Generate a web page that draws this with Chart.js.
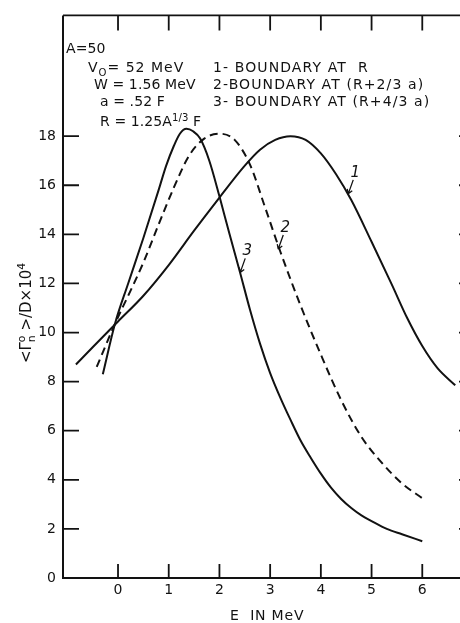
<!DOCTYPE html>
<html><head><meta charset="utf-8">
<script src="https://cdn.jsdelivr.net/npm/chart.js@4.4.0/dist/chart.umd.min.js"></script>
<style>
html,body{margin:0;padding:0;background:#fff;overflow:hidden;width:460px;height:623px}
#wrap{position:relative;width:476px;height:623px}
canvas{display:block}
</style></head>
<body><div id="wrap"><canvas id="c" width="476" height="623"></canvas></div>
<script>
// ---- data ----
const curve1X = [-0.83, -0.5, 0, 0.5, 1.0, 1.5, 2.0, 2.5, 2.8, 3.1, 3.4, 3.7, 4.0, 4.3, 4.6, 5.0, 5.4, 5.7, 6.0, 6.3, 6.65];
const curve1Y = [8.7, 9.4, 10.45, 11.5, 12.75, 14.15, 15.5, 16.8, 17.45, 17.85, 18.0, 17.85, 17.3, 16.45, 15.4, 13.7, 11.95, 10.6, 9.45, 8.55, 7.85];
const curve2X = [-0.42, -0.06, 0.2, 0.5, 0.8, 1.1, 1.4, 1.7, 2.0, 2.3, 2.6, 2.9, 3.2, 3.6, 4.0, 4.4, 4.8, 5.2, 5.6, 6.0];
const curve2Y = [8.6, 10.36, 11.5, 12.85, 14.4, 15.9, 17.2, 17.9, 18.1, 17.85, 16.85, 15.1, 13.3, 11.1, 9.1, 7.25, 5.75, 4.7, 3.85, 3.25];
const curve3X = [-0.30, -0.06, 0.2, 0.5, 0.8, 0.95, 1.1, 1.22, 1.35, 1.48, 1.62, 1.8, 2.0, 2.2, 2.4, 2.6, 2.8, 3.0, 3.2, 3.4, 3.6, 3.8, 4.0, 4.2, 4.4, 4.6, 4.8, 5.0, 5.3, 5.6, 6.0];
const curve3Y = [8.3, 10.36, 12.0, 13.85, 15.8, 16.8, 17.6, 18.1, 18.3, 18.2, 17.9, 17.0, 15.55, 14.0, 12.5, 10.95, 9.55, 8.35, 7.35, 6.45, 5.6, 4.9, 4.25, 3.68, 3.22, 2.85, 2.55, 2.32, 2.0, 1.78, 1.5];

const xTickValues = [0, 1, 2, 3, 4, 5, 6];
const xTickLabels = ['0', '1', '2', '3', '4', '5', '6'];
const yTickValues = [0, 2, 4, 6, 8, 10, 12, 14, 16, 18];
const yTickLabels = ['0', '2', '4', '6', '8', '10', '12', '14', '16', '18'];

// curve labels: name, and the point on its curve the leader arrow touches
const curveLabelNames = ['1', '2', '3'];
const curveLabelX = [4.54, 3.16, 2.41];
const curveLabelY = [15.65, 13.4, 12.45];

const INK = '#121212';
const FONT = '"DejaVu Sans", "Liberation Sans", sans-serif';

const pts = (xs, ys) => xs.map((x, i) => ({x: x, y: ys[i]}));

// segments: t text; sup/sub raise or lower; keep = do not advance (stacked scripts)
function drawRich(ctx, x, y, segs, size) {
  let cx = x;
  for (const s of segs) {
    const small = s.sub || s.sup;
    const fs = small ? size * 0.72 : size;
    ctx.font = fs + 'px ' + FONT;
    const dy = s.sub ? size * 0.28 : (s.sup ? -size * 0.42 : 0);
    ctx.fillText(s.t, cx, y + dy);
    if (!s.keep) cx += ctx.measureText(s.t).width;
  }
  return cx - x;
}
function richWidth(ctx, segs, size) {
  let w = 0;
  for (const s of segs) {
    const small = s.sub || s.sup;
    ctx.font = (small ? size * 0.72 : size) + 'px ' + FONT;
    if (!s.keep) w += ctx.measureText(s.t).width;
  }
  return w;
}

const framePlugin = {
  id: 'frame',
  beforeDatasetsDraw(chart) {
    const {ctx, chartArea: a, scales: {x, y}} = chart;
    ctx.save();
    ctx.strokeStyle = INK;
    ctx.lineWidth = 2;
    ctx.beginPath();
    ctx.moveTo(a.left, a.top); ctx.lineTo(a.left, a.bottom);
    ctx.lineTo(a.right, a.bottom); ctx.lineTo(a.right, a.top);
    ctx.stroke();
    ctx.lineWidth = 1.6;
    ctx.beginPath(); ctx.moveTo(a.left, a.top); ctx.lineTo(a.right, a.top); ctx.stroke();
    ctx.lineWidth = 1.8;
    ctx.beginPath();
    for (const v of xTickValues) {
      const px = x.getPixelForValue(v);
      ctx.moveTo(px, a.bottom); ctx.lineTo(px, a.bottom - 14);
      ctx.moveTo(px, a.top); ctx.lineTo(px, a.top + 15);
    }
    for (const v of yTickValues) {
      if (v === 0) continue;
      const py = y.getPixelForValue(v);
      ctx.moveTo(a.left, py); ctx.lineTo(a.left + 16, py);
      ctx.moveTo(a.right, py); ctx.lineTo(a.right - 15, py);
    }
    ctx.stroke();
    ctx.restore();
  }
};

const textPlugin = {
  id: 'texts',
  afterDraw(chart) {
    const {ctx, chartArea: a, scales: {x, y}} = chart;
    ctx.save();
    ctx.fillStyle = INK;
    ctx.strokeStyle = INK;
    ctx.textBaseline = 'alphabetic';
    ctx.textAlign = 'left';
    const L = a.left, T = a.top;
    const S = 14;
    ctx.letterSpacing = '0.1px';
    drawRich(ctx, L + 3, T + 38, [{t: 'A=50'}], S);
    drawRich(ctx, L + 31, T + 74, [{t: 'W = 1.56 MeV'}], S);
    drawRich(ctx, L + 37, T + 91, [{t: 'a = .52 F'}], S);
    drawRich(ctx, L + 37, T + 111, [{t: 'R = 1.25A'}, {t: '1/3', sup: true}, {t: ' F'}], S);
    ctx.letterSpacing = '1px';
    drawRich(ctx, L + 25, T + 57, [{t: 'V'}, {t: 'O', sub: true}, {t: '= 52 MeV'}], S);
    ctx.letterSpacing = '1.1px';
    drawRich(ctx, L + 150, T + 57, [{t: '1- BOUNDARY AT  R'}], S);
    drawRich(ctx, L + 150, T + 74, [{t: '2-BOUNDARY AT (R+2/3 a)'}], S);
    drawRich(ctx, L + 150, T + 91, [{t: '3- BOUNDARY AT (R+4/3 a)'}], S);

    // x axis title
    ctx.letterSpacing = '0.8px';
    drawRich(ctx, L + 167, 620, [{t: 'E  IN MeV'}], S);

    // y axis title (rotated)
    ctx.letterSpacing = '0px';
    const ysegs = [{t: '<\u0393'}, {t: 'o', sup: true, keep: true}, {t: 'n', sub: true}, {t: ' >/D\u00d710'}, {t: '4', sup: true}];
    ctx.save();
    ctx.translate(31, 313);
    ctx.rotate(-Math.PI / 2);
    const w = richWidth(ctx, ysegs, 15);
    drawRich(ctx, -w / 2, 0, ysegs, 15);
    ctx.restore();

    // curve labels with leader arrows
    ctx.lineWidth = 1.3;
    for (let i = 0; i < curveLabelNames.length; i++) {
      const px = x.getPixelForValue(curveLabelX[i]);
      const py = y.getPixelForValue(curveLabelY[i]);
      ctx.font = 'italic 15px ' + FONT;
      ctx.textAlign = 'center';
      ctx.fillText(curveLabelNames[i], px + 7, py - 17);
      ctx.beginPath();
      ctx.moveTo(px + 5, py - 14); ctx.lineTo(px, py);
      ctx.moveTo(px, py); ctx.lineTo(px - 1, py - 5);
      ctx.moveTo(px, py); ctx.lineTo(px + 4, py - 3);
      ctx.stroke();
    }
    ctx.restore();
  }
};

const common = {borderColor: INK, borderWidth: 2, pointRadius: 0, fill: false, cubicInterpolationMode: 'monotone'};

new Chart(document.getElementById('c'), {
  type: 'line',
  data: {
    datasets: [
      Object.assign({label: '1', data: pts(curve1X, curve1Y)}, common),
      Object.assign({label: '2', data: pts(curve2X, curve2Y), borderDash: [8, 5]}, common),
      Object.assign({label: '3', data: pts(curve3X, curve3Y)}, common)
    ]
  },
  options: {
    responsive: false,
    animation: false,
    layout: {padding: {left: 0, top: 10, right: 2, bottom: 0}},
    plugins: {legend: {display: false}, tooltip: {enabled: false}},
    scales: {
      x: {
        type: 'linear', min: -1.085, max: 7.02,
        afterBuildTicks: s => { s.ticks = xTickValues.map(v => ({value: v})); },
        ticks: {callback: (v, i) => xTickLabels[i], font: {family: FONT, size: 14}, color: INK, padding: 4, maxRotation: 0, autoSkip: false},
        grid: {display: false, drawTicks: false},
        border: {display: false},
        afterFit: s => { s.height = 45; }
      },
      y: {
        type: 'linear', min: 0, max: 22.92,
        afterBuildTicks: s => { s.ticks = yTickValues.map(v => ({value: v})); },
        ticks: {callback: (v, i) => yTickLabels[i], font: {family: FONT, size: 14}, color: INK, padding: 7, autoSkip: false},
        grid: {display: false, drawTicks: false},
        border: {display: false},
        afterFit: s => { s.width = 63; }
      }
    }
  },
  plugins: [framePlugin, textPlugin]
});
</script>
</body></html>
